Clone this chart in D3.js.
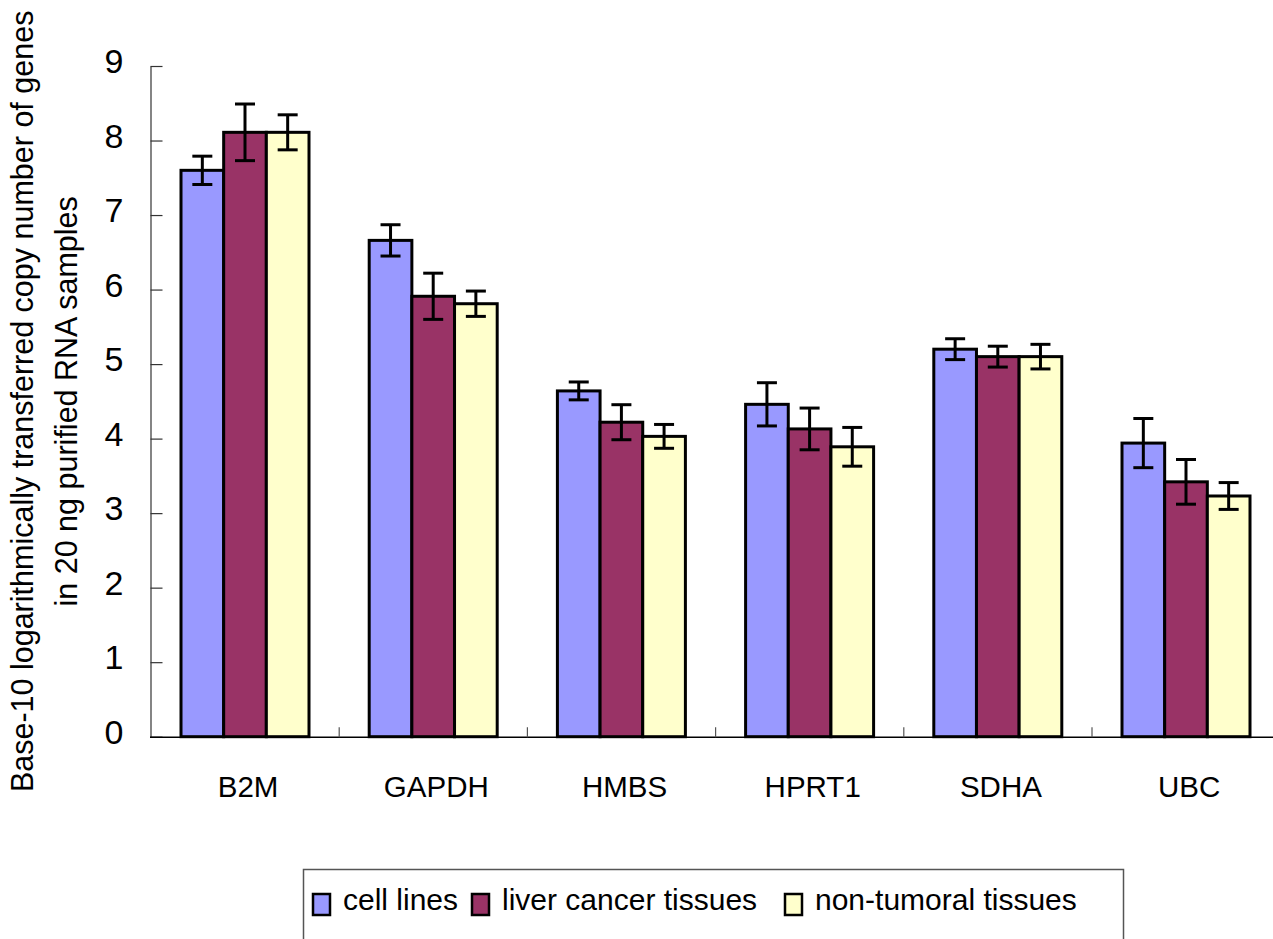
<!DOCTYPE html>
<html>
<head>
<meta charset="utf-8">
<script src="https://cdn.jsdelivr.net/npm/d3@7"></script>
<style>
  body { margin: 0; background: #fff; }
  #chart { width: 1273px; height: 939px; }
  text { font-family: "Liberation Sans", Arial, sans-serif; fill: #000; }
</style>
</head>
<body>
<div id="chart"></div>
<script>
const genes = ["B2M", "GAPDH", "HMBS", "HPRT1", "SDHA", "UBC"];
const seriesNames = ["cell lines", "liver cancer tissues", "non-tumoral tissues"];
const seriesColors = ["#9999ff", "#993366", "#ffffcc"];

const cellLines = [7.60, 6.66, 4.64, 4.46, 5.20, 3.94];
const cellLinesErr = [0.19, 0.21, 0.12, 0.29, 0.14, 0.33];
const liverCancer = [8.11, 5.91, 4.22, 4.13, 5.10, 3.42];
const liverCancerErr = [0.38, 0.31, 0.235, 0.28, 0.14, 0.30];
const nonTumoral = [8.11, 5.81, 4.03, 3.89, 5.10, 3.23];
const nonTumoralErr = [0.235, 0.17, 0.16, 0.26, 0.165, 0.18];

const yTicks = [0, 1, 2, 3, 4, 5, 6, 7, 8, 9];

const values = [cellLines, liverCancer, nonTumoral];
const errors = [cellLinesErr, liverCancerErr, nonTumoralErr];

const rows = [];
genes.forEach((g, i) => {
  seriesNames.forEach((s, j) => {
    rows.push({ gene: g, series: s, value: values[j][i], err: errors[j][i], color: seriesColors[j] });
  });
});

const width = 1273;
const height = 939;

const svg = d3
  .select("#chart")
  .append("svg")
  .attr("width", width)
  .attr("height", height);

const x0 = 151;
const step = 188.2;
const xScale = d3.scaleBand().domain(genes).range([x0, x0 + step * genes.length]).padding(0);
const xSub = d3.scaleBand().domain(seriesNames).range([30, 158]);
const yScale = d3.scaleLinear().domain([0, 9]).range([736.7, 66]);

// y axis
const yAxis = d3.axisLeft(yScale).tickValues(yTicks).tickSize(-12).tickSizeOuter(0).tickPadding(27);
const yG = svg.append("g").attr("transform", "translate(150.5,0)").call(yAxis);
yG.select(".domain").attr("stroke", "#333").attr("stroke-width", 1.2);
yG.selectAll(".tick line").attr("stroke", "#333").attr("stroke-width", 1.2);
yG.selectAll(".tick text")
  .attr("font-size", 34)
  .attr("font-family", "Liberation Sans, Arial, sans-serif")
  .attr("dy", "0.2em");

// bars
svg.append("g")
  .selectAll("rect")
  .data(rows)
  .join("rect")
  .attr("x", (d) => xScale(d.gene) + xSub(d.series))
  .attr("y", (d) => yScale(d.value))
  .attr("width", xSub.bandwidth())
  .attr("height", (d) => yScale(0) - yScale(d.value))
  .attr("fill", (d) => d.color)
  .attr("stroke", "#000")
  .attr("stroke-width", 3);

// error bars
const eb = svg.append("g").attr("stroke", "#000").attr("stroke-width", 3);
rows.forEach((d) => {
  const cx = xScale(d.gene) + xSub(d.series) + xSub.bandwidth() / 2;
  const top = yScale(d.value + d.err);
  const bot = yScale(d.value - d.err);
  eb.append("line").attr("x1", cx).attr("x2", cx).attr("y1", top).attr("y2", bot);
  eb.append("line").attr("x1", cx - 10).attr("x2", cx + 10).attr("y1", top).attr("y2", top);
  eb.append("line").attr("x1", cx - 10).attr("x2", cx + 10).attr("y1", bot).attr("y2", bot);
});

// x axis line and category separators
const xAxisY = yScale(0) + 0.5;
svg.append("line")
  .attr("x1", 150).attr("x2", width)
  .attr("y1", xAxisY).attr("y2", xAxisY)
  .attr("stroke", "#000").attr("stroke-width", 1.5);
svg.append("g")
  .selectAll("line")
  .data(genes.slice(1))
  .join("line")
  .attr("x1", (d) => xScale(d))
  .attr("x2", (d) => xScale(d))
  .attr("y1", xAxisY)
  .attr("y2", xAxisY - 10)
  .attr("stroke", "#555")
  .attr("stroke-width", 1.2);

const xAxis = d3.axisBottom(xScale).tickSize(0).tickPadding(39);
const xG = svg.append("g").attr("transform", `translate(3,${xAxisY})`).call(xAxis);
xG.select(".domain").remove();
xG.selectAll(".tick text")
  .attr("font-size", 29.5)
  .attr("font-family", "Liberation Sans, Arial, sans-serif");

// y label
const yLabel = svg.append("text")
  .attr("transform", `translate(0,${yScale(4.5)}) rotate(-90)`)
  .attr("text-anchor", "middle")
  .attr("font-size", 30.5);
yLabel.append("tspan").attr("x", 0).attr("y", 33).text("Base-10 logarithmically transferred copy number of genes");
yLabel.append("tspan").attr("x", 0).attr("y", 77).text("in 20 ng purified RNA samples");

// legend
svg.append("rect")
  .attr("x", 303.5).attr("y", 869.5)
  .attr("width", 820).attr("height", 90)
  .attr("fill", "none").attr("stroke", "#555").attr("stroke-width", 1.5);

const legendX = [313, 472, 785];
const legend = svg.append("g")
  .selectAll("g")
  .data(seriesNames)
  .join("g")
  .attr("transform", (d, i) => `translate(${legendX[i]},894)`);
legend.append("rect")
  .attr("width", 17).attr("height", 21)
  .attr("fill", (d, i) => seriesColors[i])
  .attr("stroke", "#000").attr("stroke-width", 2.5);
legend.append("text")
  .attr("x", 30).attr("y", 16)
  .attr("font-size", 30)
  .text((d) => d);
</script>
</body>
</html>
